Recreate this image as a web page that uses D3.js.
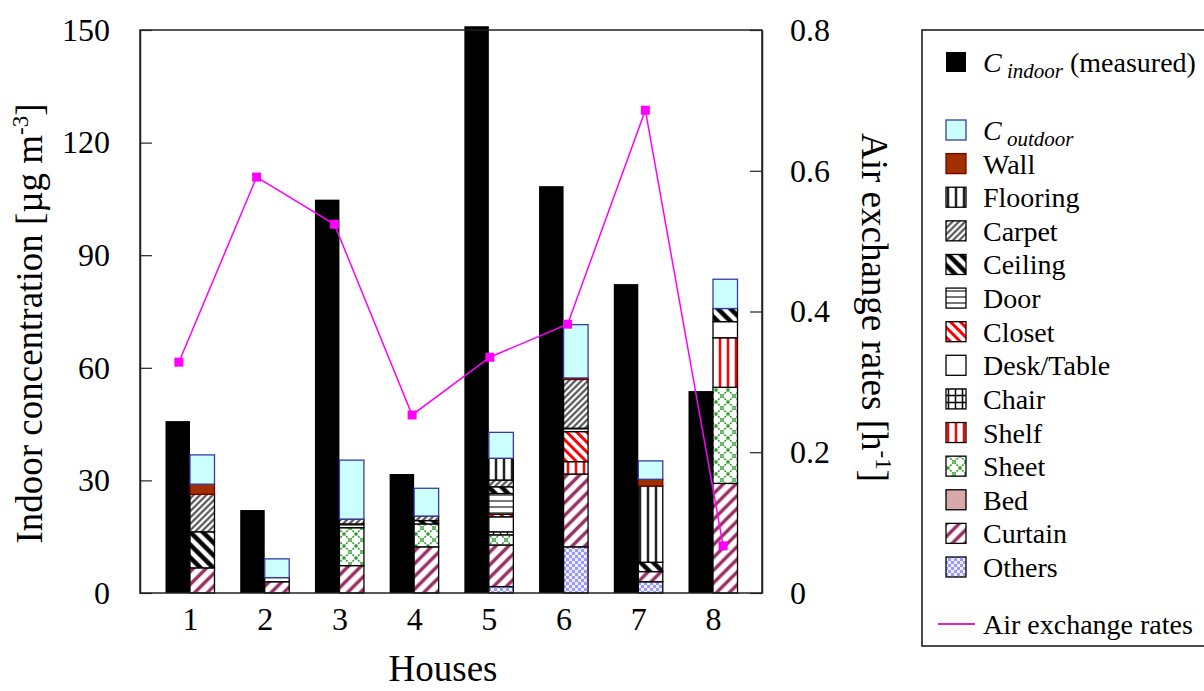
<!DOCTYPE html>
<html>
<head>
<meta charset="utf-8">
<script src="https://cdn.jsdelivr.net/npm/d3@7"></script>
<style>
  body { margin: 0; background: #fff; }
  text { font-family: "Liberation Serif", "Times New Roman", serif; fill: #000; }
</style>
</head>
<body>
<div id="chart"></div>
<script>
// data
const houses = ['1', '2', '3', '4', '5', '6', '7', '8'];
const indoor = [45.8, 22.1, 104.8, 31.7, 151, 108.4, 82.3, 53.8];
const airExchange = [0.328, 0.591, 0.524, 0.253, 0.335, 0.382, 0.686, 0.067];

// stacked sources, bottom to top
const others   = [0, 0, 0, 0, 1.7, 12.3, 3.0, 0];
const curtain  = [6.7, 3.0, 7.3, 12.3, 11.1, 19.4, 2.7, 29.2];
const bed      = [0, 0, 0, 0, 0, 0, 0, 0];
const sheet    = [0, 0, 10.1, 6.1, 2.7, 0, 0, 25.6];
const shelf    = [0, 0, 0, 0, 0, 3.3, 0, 13.2];
const chair    = [0, 0, 0, 0, 0.8, 0, 0, 0];
const desk     = [0, 1.1, 0, 0, 4.0, 0, 0, 4.3];
const closet   = [0, 0, 0, 0, 0.7, 8.0, 0, 0];
const door     = [0, 0, 1.0, 0, 5.5, 0.9, 0, 0];
const ceiling  = [9.6, 0, 0, 0.9, 1.8, 0, 2.5, 3.5];
const carpet   = [10.0, 0, 1.3, 1.2, 1.8, 13.0, 0, 0];
const flooring = [0, 0, 0, 0, 5.8, 0, 20.3, 0];
const wall     = [2.7, 0, 0, 0, 0, 0.4, 1.8, 0];
const outdoor  = [7.8, 5.0, 15.7, 7.4, 6.9, 14.2, 4.9, 7.8];

const leftTicks = [0, 30, 60, 90, 120, 150];
const rightTicks = [0, 0.2, 0.4, 0.6, 0.8];

const sources = [
    {key: 'others', label: 'Others', values: others},
    {key: 'curtain', label: 'Curtain', values: curtain},
    {key: 'bed', label: 'Bed', values: bed},
    {key: 'sheet', label: 'Sheet', values: sheet},
    {key: 'shelf', label: 'Shelf', values: shelf},
    {key: 'chair', label: 'Chair', values: chair},
    {key: 'desk', label: 'Desk/Table', values: desk},
    {key: 'closet', label: 'Closet', values: closet},
    {key: 'door', label: 'Door', values: door},
    {key: 'ceiling', label: 'Ceiling', values: ceiling},
    {key: 'carpet', label: 'Carpet', values: carpet},
    {key: 'flooring', label: 'Flooring', values: flooring},
    {key: 'wall', label: 'Wall', values: wall},
    {key: 'outdoor', label: 'outdoor', values: outdoor}
];

const fills = {
    others: 'url(#p-others)', curtain: 'url(#p-curtain)', bed: '#d9a8a8',
    sheet: 'url(#p-sheet)', shelf: 'url(#p-shelf)', chair: 'url(#p-chair)',
    desk: '#fff', closet: 'url(#p-closet)', door: 'url(#p-door)',
    ceiling: 'url(#p-ceiling)', carpet: 'url(#p-carpet)', flooring: 'url(#p-flooring)',
    wall: '#a03000', outdoor: '#ccffff'
};
const strokes = {outdoor: '#3a3aa8', wall: '#7a0000'};

const width = 1204, height = 691;
const margin = {top: 30, right: 442, bottom: 98, left: 140};
const iw = width - margin.left - margin.right;
const ih = height - margin.top - margin.bottom;

const svg = d3.select('#chart').append('svg')
    .attr('width', width)
    .attr('height', height);

// patterns
const defs = svg.append('defs');

function stripes(id, angle, gap, sw, color) {
    const p = defs.append('pattern')
        .attr('id', id)
        .attr('patternUnits', 'userSpaceOnUse')
        .attr('width', gap).attr('height', gap)
        .attr('patternTransform', `rotate(${angle})`);
    p.append('rect').attr('width', gap).attr('height', gap).attr('fill', '#fff');
    p.append('line')
        .attr('x1', gap / 2).attr('x2', gap / 2)
        .attr('y1', -1).attr('y2', gap + 1)
        .attr('stroke', color).attr('stroke-width', sw);
}
stripes('p-flooring', 0, 8, 2.5, '#222');
stripes('p-shelf', 0, 8, 2.5, '#ff0000');
stripes('p-carpet', 45, 4.5, 2, '#444');
stripes('p-ceiling', -45, 9, 4.5, '#000');
stripes('p-closet', -45, 7, 3, '#ff0000');
stripes('p-curtain', 45, 9, 3.5, '#993366');
stripes('p-door', 90, 6, 2, '#777');

const chairP = defs.append('pattern').attr('id', 'p-chair')
    .attr('patternUnits', 'userSpaceOnUse').attr('width', 7).attr('height', 7);
chairP.append('rect').attr('width', 7).attr('height', 7).attr('fill', '#fff');
chairP.append('path').attr('d', 'M3.5,0V7M0,3.5H7').attr('stroke', '#000').attr('stroke-width', 1.5);

const sheetP = defs.append('pattern').attr('id', 'p-sheet')
    .attr('patternUnits', 'userSpaceOnUse').attr('width', 12).attr('height', 12);
sheetP.append('rect').attr('width', 12).attr('height', 12).attr('fill', '#fff');
sheetP.append('path').attr('d', 'M0,0L12,12M12,0L0,12')
    .attr('stroke', '#2e9e2e').attr('stroke-width', 1.6).attr('stroke-dasharray', '2,1');

const othersP = defs.append('pattern').attr('id', 'p-others')
    .attr('patternUnits', 'userSpaceOnUse').attr('width', 6).attr('height', 6);
othersP.append('rect').attr('width', 6).attr('height', 6).attr('fill', '#eeeeff');
othersP.append('rect').attr('width', 3).attr('height', 3).attr('fill', '#9999ff');
othersP.append('rect').attr('x', 3).attr('y', 3).attr('width', 3).attr('height', 3).attr('fill', '#9999ff');

// scales
const g = svg.append('g').attr('transform', `translate(${margin.left},${margin.top})`);

const xBar = d3.scalePoint().domain(houses).range([50, 573]);
const xLine = d3.scaleBand().domain(houses).range([0, iw]);
const y = d3.scaleLinear().domain([0, 150]).range([ih, 0]);
const y2 = d3.scaleLinear().domain([0, 0.8]).range([ih, 0]);
const barW = 24.5;

// measured indoor bars
g.selectAll('.indoor').data(houses).join('rect')
    .attr('class', 'indoor')
    .attr('x', d => xBar(d) - barW)
    .attr('y', (d, i) => y(indoor[i]))
    .attr('width', barW)
    .attr('height', (d, i) => y(0) - y(indoor[i]))
    .attr('fill', '#000');

// stacked source bars
const rows = houses.map((h, i) => {
    const r = {house: h};
    sources.forEach(s => { r[s.key] = s.values[i]; });
    return r;
});
const stacked = d3.stack().keys(sources.map(s => s.key))(rows);

g.selectAll('.layer').data(stacked).join('g')
    .attr('class', 'layer')
    .selectAll('rect')
    .data(d => d.map(v => ({key: d.key, v})))
    .join('rect')
    .filter(d => d.v[1] - d.v[0] > 0)
    .attr('x', d => xBar(d.v.data.house))
    .attr('y', d => y(d.v[1]))
    .attr('width', barW)
    .attr('height', d => y(d.v[0]) - y(d.v[1]))
    .attr('fill', d => fills[d.key])
    .attr('stroke', d => strokes[d.key] || '#000')
    .attr('stroke-width', 1.3);

// frame
g.append('rect')
    .attr('width', iw).attr('height', ih)
    .attr('fill', 'none')
    .attr('stroke', '#222')
    .attr('stroke-width', 1.5);

// axes
const yAxis = d3.axisLeft(y).tickValues(leftTicks).tickSize(-12).tickPadding(30).tickSizeOuter(0);
const y2Axis = d3.axisRight(y2).tickValues(rightTicks).tickSize(-12).tickPadding(28).tickSizeOuter(0)
    .tickFormat(d => d === 0 ? '0' : d3.format('.1f')(d));
const xAxis = d3.axisBottom(xBar).tickSize(0).tickPadding(14);

g.append('g').call(yAxis)
    .call(a => a.selectAll('text').style('font-size', '32px').attr('font-family', null));
g.append('g').attr('transform', `translate(${iw},0)`).call(y2Axis)
    .call(a => a.selectAll('text').style('font-size', '32px').attr('font-family', null));
g.append('g').attr('transform', `translate(0,${ih})`).call(xAxis)
    .call(a => a.select('.domain').remove())
    .call(a => a.selectAll('text').style('font-size', '32px').attr('font-family', null));
g.selectAll('.tick line').attr('stroke', '#222').attr('stroke-width', 1.2);
g.selectAll('.domain').attr('stroke', '#222').attr('stroke-width', 1.5);

// air exchange line
const line = d3.line()
    .x((d, i) => xLine(houses[i]) + xLine.bandwidth() / 2)
    .y(d => y2(d));
g.append('path')
    .datum(airExchange)
    .attr('d', line)
    .attr('fill', 'none')
    .attr('stroke', '#ff00ff')
    .attr('stroke-width', 1.5);
g.selectAll('.marker').data(airExchange).join('rect')
    .attr('class', 'marker')
    .attr('x', (d, i) => xLine(houses[i]) + xLine.bandwidth() / 2 - 4.5)
    .attr('y', d => y2(d) - 4.5)
    .attr('width', 9).attr('height', 9)
    .attr('fill', '#ff00ff');

// axis titles
const leftTitle = svg.append('text')
    .attr('transform', `translate(42,${margin.top + ih / 2 + 12}) rotate(-90)`)
    .attr('text-anchor', 'middle')
    .style('font-size', '37px');
leftTitle.append('tspan').text('Indoor concentration [\u00b5g m');
leftTitle.append('tspan').attr('dy', -14).style('font-size', '23px').text('-3');
leftTitle.append('tspan').attr('dy', 14).text(']');

const rightTitle = svg.append('text')
    .attr('transform', `translate(862,${margin.top + ih / 2 - 4}) rotate(90)`)
    .attr('text-anchor', 'middle')
    .style('font-size', '37px');
rightTitle.append('tspan').text('Air exchange rates [h');
rightTitle.append('tspan').attr('dy', -14).style('font-size', '23px').text('-1');
rightTitle.append('tspan').attr('dy', 14).text(']');

svg.append('text')
    .attr('x', margin.left + iw / 2 - 8)
    .attr('y', 681)
    .attr('text-anchor', 'middle')
    .style('font-size', '37px')
    .text('Houses');

// legend
const legend = svg.append('g');
legend.append('rect')
    .attr('x', 922).attr('y', 30)
    .attr('width', 300).attr('height', 616)
    .attr('fill', '#fff')
    .attr('stroke', '#111').attr('stroke-width', 1.5);

const lx = 946, tx = 983, fs = '28px';
legend.append('rect').attr('x', lx).attr('y', 52).attr('width', 20).attr('height', 20).attr('fill', '#000');
const ci = legend.append('text').attr('x', tx).attr('y', 72).style('font-size', fs);
ci.append('tspan').attr('font-style', 'italic').text('C');
ci.append('tspan').attr('font-style', 'italic').attr('dy', 6).style('font-size', '21px').text(' indoor');
ci.append('tspan').attr('dy', -6).text(' (measured)');

const legendItems = sources.slice().reverse();
const ly = d3.scalePoint().domain(legendItems.map(s => s.key)).range([130, 567]);

legendItems.forEach(s => {
    const cy = ly(s.key);
    legend.append('rect')
        .attr('x', lx).attr('y', cy - 10)
        .attr('width', 20).attr('height', 20)
        .attr('fill', fills[s.key])
        .attr('stroke', strokes[s.key] || '#000')
        .attr('stroke-width', 1.3);
    const t = legend.append('text').attr('x', tx).attr('y', cy + 10).style('font-size', fs);
    if (s.key === 'outdoor') {
        t.append('tspan').attr('font-style', 'italic').text('C');
        t.append('tspan').attr('font-style', 'italic').attr('dy', 6).style('font-size', '21px').text(' outdoor');
    } else {
        t.text(s.label);
    }
});

legend.append('line')
    .attr('x1', 938).attr('x2', 975)
    .attr('y1', 624).attr('y2', 624)
    .attr('stroke', '#e020c0').attr('stroke-width', 2);
legend.append('text').attr('x', tx).attr('y', 634).style('font-size', fs).text('Air exchange rates');
</script>
</body>
</html>
